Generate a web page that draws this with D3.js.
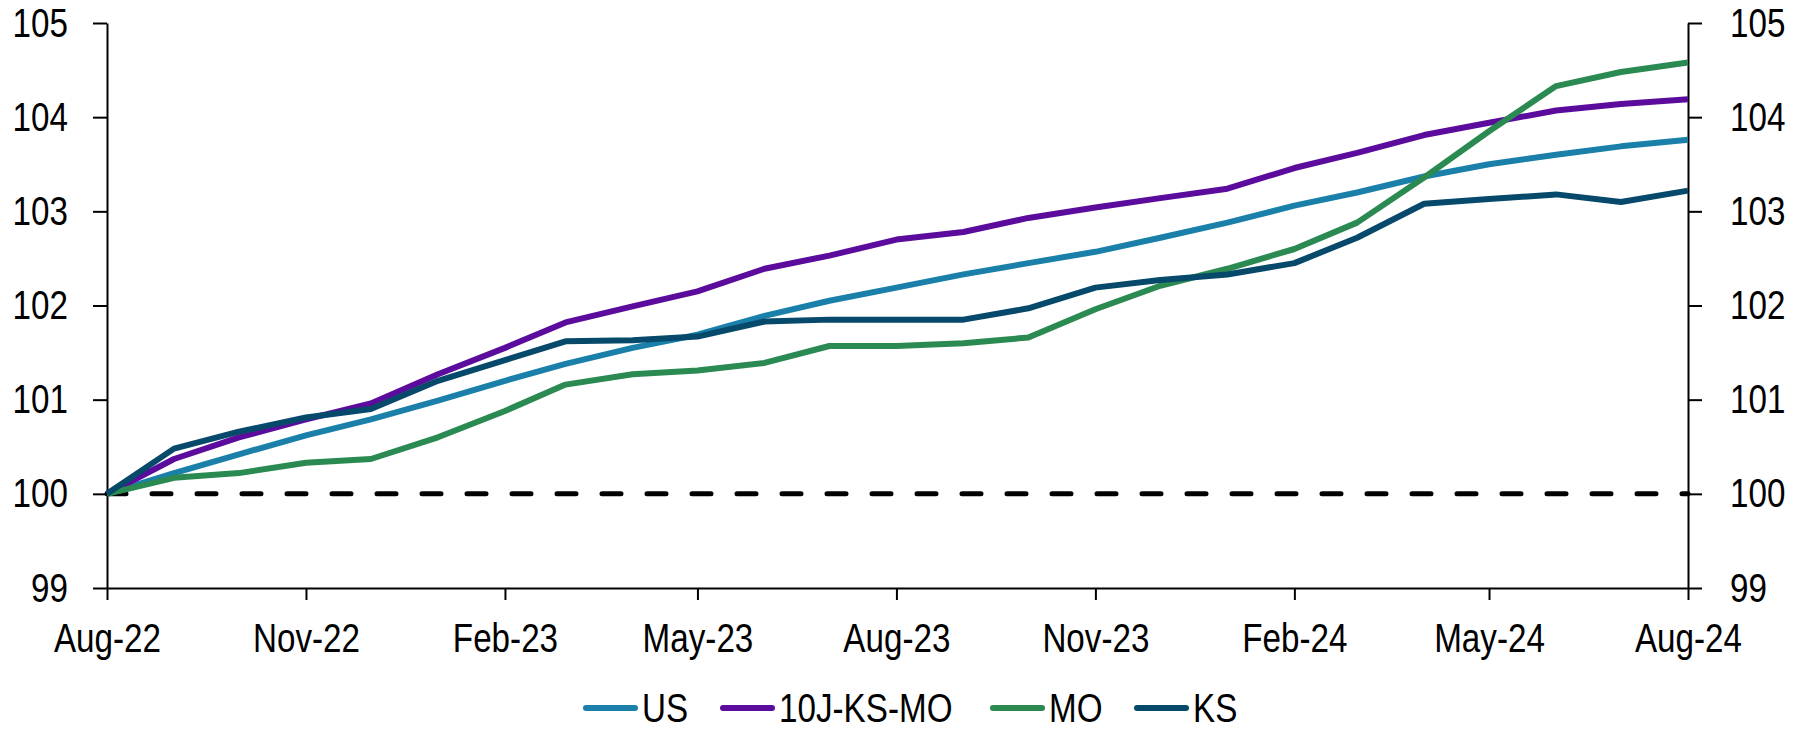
<!DOCTYPE html>
<html>
<head>
<meta charset="utf-8">
<script src="https://cdn.jsdelivr.net/npm/d3@7"></script>
<style>
  body { margin: 0; background: #fff; }
  text { font-family: "Liberation Sans", Arial, sans-serif; }
</style>
</head>
<body>
<svg id="chart" width="1801" height="730"></svg>
<script>
// monthly index levels, Aug-22 = 100
var months = ["2022-08","2022-09","2022-10","2022-11","2022-12","2023-01","2023-02","2023-03","2023-04",
              "2023-05","2023-06","2023-07","2023-08","2023-09","2023-10","2023-11","2023-12","2024-01",
              "2024-02","2024-03","2024-04","2024-05","2024-06","2024-07","2024-08"];
var us   = [100, 100.22, 100.42, 100.62, 100.79, 100.99, 101.2, 101.38, 101.55, 101.69, 101.89, 102.05, 102.19,
            102.33, 102.45, 102.57, 102.72, 102.88, 103.06, 103.2, 103.37, 103.5, 103.6, 103.69, 103.76];
var tenJ = [100, 100.37, 100.6, 100.79, 100.96, 101.27, 101.55, 101.82, 101.99, 102.15, 102.39, 102.53, 102.7,
            102.78, 102.93, 103.04, 103.14, 103.24, 103.46, 103.62, 103.81, 103.94, 104.07, 104.14, 104.19];
var mo   = [100, 100.17, 100.22, 100.33, 100.37, 100.6, 100.88, 101.16, 101.27, 101.31, 101.39, 101.57, 101.57,
            101.6, 101.66, 101.96, 102.21, 102.39, 102.6, 102.88, 103.36, 103.85, 104.33, 104.48, 104.58];
var ks   = [100, 100.48, 100.66, 100.81, 100.9, 101.2, 101.42, 101.62, 101.63, 101.67, 101.83, 101.85, 101.85,
            101.85, 101.97, 102.19, 102.27, 102.33, 102.45, 102.72, 103.08, 103.13, 103.18, 103.1, 103.22];
var seriesNames = ["US", "10J-KS-MO", "MO", "KS"];
var yTicks = [99, 100, 101, 102, 103, 104, 105];

var colors = { "US": "#1a80aa", "10J-KS-MO": "#5c0c9c", "MO": "#2a8a52", "KS": "#07496b" };

var svg = d3.select("#chart"),
    mLeft = 107, mRight = 1688, mTop = 23, mBottom = 588,
    fontSize = 41,
    narrow = 0.81; // reference font is a condensed sans

var parse = d3.timeParse("%Y-%m");
var dates = months.map(parse);

var x = d3.scaleTime()
    .domain([dates[0], dates[dates.length - 1]])
    .range([mLeft, mRight]);
var y = d3.scaleLinear()
    .domain([99, 105])
    .range([mBottom, mTop]);

var data = [us, tenJ, mo, ks].map(function (vals, i) {
    return { name: seriesNames[i], values: vals.map(function (v, j) { return { date: dates[j], value: v }; }) };
});

// squeeze text horizontally to mimic the narrow font
function condense(sel) {
    sel.each(function () {
        var w = this.getComputedTextLength();
        d3.select(this).attr("textLength", w * narrow).attr("lengthAdjust", "spacingAndGlyphs");
    });
}

// baseline at 100
svg.append("line")
    .attr("x1", mLeft).attr("x2", mRight)
    .attr("y1", y(100)).attr("y2", y(100))
    .attr("stroke", "#000")
    .attr("stroke-width", 5)
    .attr("stroke-linecap", "round")
    .attr("stroke-dasharray", "19,26");

// axes
var xAxis = d3.axisBottom(x)
    .tickValues(dates.filter(function (d, i) { return i % 3 === 0; }))
    .tickFormat(d3.timeFormat("%b-%y"))
    .tickSizeInner(12).tickSizeOuter(0).tickPadding(23);
var yLeft = d3.axisLeft(y).tickValues(yTicks).tickFormat(d3.format("d"))
    .tickSizeInner(14).tickSizeOuter(0).tickPadding(25);
var yRight = d3.axisRight(y).tickValues(yTicks).tickFormat(d3.format("d"))
    .tickSizeInner(14).tickSizeOuter(0).tickPadding(28);

function styleAxis(g) {
    g.attr("font-family", null).attr("font-size", null);
    g.selectAll("path, line").attr("stroke", "#000").attr("stroke-width", 2);
    g.selectAll("text").attr("fill", "#000").style("font-size", fontSize + "px").call(condense);
}

svg.append("g").attr("transform", "translate(0," + mBottom + ")").call(xAxis).call(styleAxis);
svg.append("g").attr("transform", "translate(" + mLeft + ",0)").call(yLeft).call(styleAxis);
svg.append("g").attr("transform", "translate(" + mRight + ",0)").call(yRight).call(styleAxis);

// series
var line = d3.line()
    .x(function (d) { return x(d.date); })
    .y(function (d) { return y(d.value); });

svg.selectAll(".series")
    .data(data)
    .enter().append("path")
    .attr("class", "series")
    .attr("d", function (d) { return line(d.values); })
    .attr("fill", "none")
    .attr("stroke", function (d) { return colors[d.name]; })
    .attr("stroke-width", 6)
    .attr("stroke-linejoin", "round");

// legend
var legendX = [583, 720, 990, 1134], legendY = 708;
var leg = svg.selectAll(".legend")
    .data(seriesNames)
    .enter().append("g")
    .attr("class", "legend")
    .attr("transform", function (d, i) { return "translate(" + legendX[i] + "," + legendY + ")"; });
leg.append("line")
    .attr("x1", 3).attr("x2", 52)
    .attr("stroke", function (d) { return colors[d]; })
    .attr("stroke-width", 6)
    .attr("stroke-linecap", "round");
leg.append("text")
    .attr("x", 59)
    .attr("dy", "0.35em")
    .style("font-size", fontSize + "px")
    .text(function (d) { return d; })
    .call(condense);
</script>
</body>
</html>
